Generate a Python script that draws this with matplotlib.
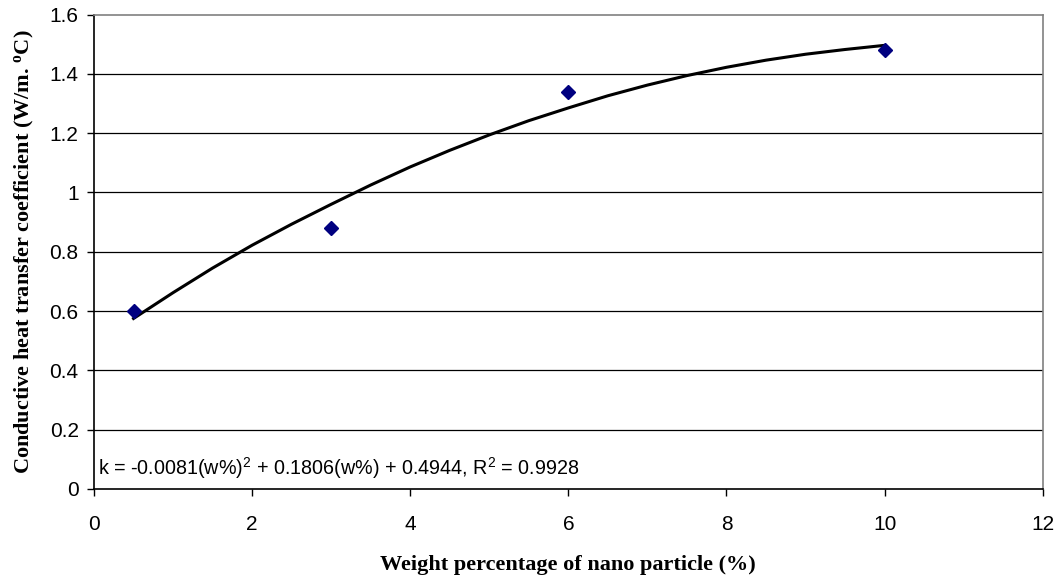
'''
thermal conductivity vs nano particle weight percentage
'''

import matplotlib
matplotlib.use('Agg')
import matplotlib.pyplot as plt

# measured points
w_pct = [0.5, 3, 6, 10]
k_meas = [0.60, 0.88, 1.34, 1.48]

# trendline
w_fit = [0.5, 1.0, 1.5, 2.0, 2.5, 3.0, 3.5, 4.0, 4.5, 5.0,
         5.5, 6.0, 6.5, 7.0, 7.5, 8.0, 8.5, 9.0, 9.5, 10.0]
k_fit = [0.575, 0.662, 0.745, 0.822, 0.893, 0.960, 1.025, 1.086, 1.142, 1.194,
         1.242, 1.285, 1.326, 1.362, 1.394, 1.422, 1.446, 1.466, 1.482, 1.496]

x_ticks = [0, 2, 4, 6, 8, 10, 12]
y_ticks = [0, 0.2, 0.4, 0.6, 0.8, 1, 1.2, 1.4, 1.6]
y_ticklabels = ['0', '0.2', '0.4', '0.6', '0.8', '1', '1.2', '1.4', '1.6']

plt.rcParams['mathtext.default'] = 'regular'

fig = plt.figure(figsize=(10.58, 5.76), dpi=100)
ax = fig.add_axes([94/1058, 87/576, (1042.7-94)/1058, (489-14.5)/576])

for y in y_ticks[1:-1]:
    ax.axhline(y, color='black', lw=0.9, zorder=1)

ax.plot(w_fit, k_fit, color='black', lw=2.2, zorder=2)
ax.plot(w_pct, k_meas, 'D', color='#000080', ms=7, zorder=3)

ax.set_xlim(0, 12)
ax.set_ylim(0, 1.6)
ax.set_xticks(x_ticks)
ax.set_yticks(y_ticks)
ax.set_yticklabels(y_ticklabels)
ax.tick_params(direction='out', length=5, width=1, labelsize=15)
ax.tick_params(axis='x', pad=14)
ax.tick_params(axis='y', pad=6)
for lab in ax.get_xticklabels() + ax.get_yticklabels():
    lab.set_fontfamily('Liberation Sans')

ax.spines['top'].set_color('#808080')
ax.spines['right'].set_color('#808080')
for s in ax.spines.values():
    s.set_linewidth(1.2)

ax.set_xlabel('Weight percentage of nano particle (%)', fontfamily='Liberation Serif',
              fontweight='bold', fontsize=16, labelpad=15)
ax.set_ylabel('Conductive heat transfer coefficient (W/m. $^{o}$C)', fontfamily='Liberation Serif',
              fontweight='bold', fontsize=16, labelpad=10)

ax.text(0.05, 0.071, 'k = -0.0081(w%)$^{2}$ + 0.1806(w%) + 0.4944, R$^{2}$ = 0.9928',
        fontfamily='Liberation Sans', fontsize=14.2, va='center', ha='left')

plt.savefig('out.png', dpi=100)
